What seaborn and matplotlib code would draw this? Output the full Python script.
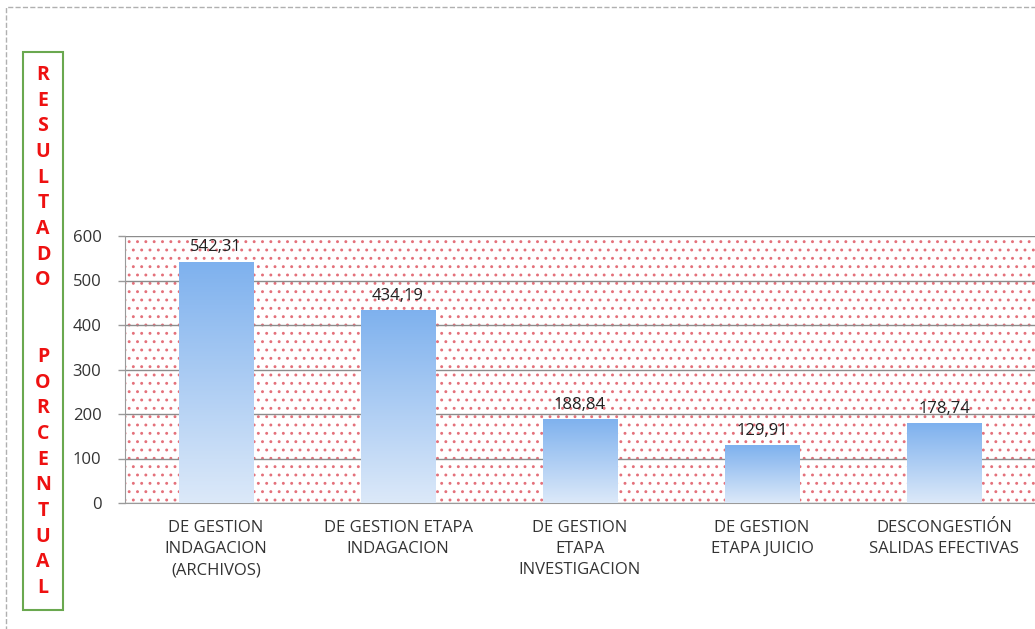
import numpy as np
import pandas as pd
import matplotlib
matplotlib.use("Agg")
import matplotlib.pyplot as plt
import seaborn as sns
from matplotlib.patches import Rectangle
from matplotlib.colors import LinearSegmentedColormap

# %% Data
categorias = [
    "DE GESTION\nINDAGACION\n(ARCHIVOS)",
    "DE GESTION ETAPA\nINDAGACION",
    "DE GESTION\nETAPA\nINVESTIGACION",
    "DE GESTION\nETAPA JUICIO",
    "DESCONGESTIÓN\nSALIDAS EFECTIVAS",
]
valores = [542.31, 434.19, 188.84, 129.91, 178.74]
y_ticks = [0, 100, 200, 300, 400, 500, 600]
etiqueta_y = "RESULTADO  PORCENTUAL"

df = pd.DataFrame({"categoria": categorias, "valor": valores})

# %% Figure
sns.set_style("white")
plt.rcParams['font.family'] = ['Open Sans', 'DejaVu Sans']
plt.rcParams['hatch.linewidth'] = 0.9

fig = plt.figure(figsize=(10.35, 6.29), dpi=100)
ax = fig.add_axes([125 / 1035, 1 - 503 / 629, (1035 - 125) / 1035, (503 - 236) / 629])

sns.barplot(data=df, x="categoria", y="valor", width=0.41, color="#9cc3f0", ax=ax, zorder=3)

# gradient fill on bars
cmap = LinearSegmentedColormap.from_list("azul", ["#dce9f9", "#7eb1ee"])
grad = np.linspace(0, 1, 256).reshape(-1, 1)
for bar in ax.patches:
    x0, y0 = bar.get_x(), bar.get_y()
    w, h = bar.get_width(), bar.get_height()
    bar.set_facecolor("none")
    bar.set_edgecolor("none")
    im = ax.imshow(grad, extent=[x0, x0 + w, y0, y0 + h], origin="lower",
                   cmap=cmap, aspect="auto", zorder=3)
    im.set_clip_path(bar)

ax.set_xlim(-0.5, len(categorias) - 0.5)
ax.set_ylim(0, 600)
ax.set_yticks(y_ticks)
ax.set_yticklabels([str(t) for t in y_ticks], fontsize=12, color="#333333")
ax.set_xticks(range(len(categorias)))
ax.set_xticklabels(categorias, fontsize=12, color="#333333", linespacing=1.45)
ax.tick_params(axis="x", length=0, pad=12)
ax.tick_params(axis="y", length=5, width=1, color="#9a9a9a", direction="out", pad=12, left=True)

# dotted background
ax.add_patch(Rectangle((0, 0), 1, 1, transform=ax.transAxes, facecolor="none",
                       edgecolor="#e4707a", hatch="..", linewidth=0, zorder=0))

ax.grid(axis="y", color="#8c8c8c", linewidth=1.0, zorder=1)
for s in ["top", "right"]:
    ax.spines[s].set_visible(False)
ax.spines["left"].set_color("#9a9a9a")
ax.spines["bottom"].set_color("#9a9a9a")
ax.set_xlabel("")
ax.set_ylabel("")

for i, v in enumerate(valores):
    ax.text(i, v + 14, f"{v:.2f}".replace(".", ","), ha="center", va="bottom",
            fontsize=12, color="#222222", zorder=4)

# vertical y label inside green box
fig.patches.append(Rectangle((23 / 1035, 1 - 610 / 629), 40 / 1035, 558 / 629,
                             transform=fig.transFigure, facecolor="none",
                             edgecolor="#6aa84f", linewidth=1.5))
letras = list(etiqueta_y)
y_top, y_bot = 1 - 75 / 629, 1 - 588 / 629
for k, ch in enumerate(letras):
    yy = y_top - k * (y_top - y_bot) / (len(letras) - 1)
    fig.text(43 / 1035, yy, ch, ha="center", va="center", fontsize=14,
             fontweight="bold", color="#ee1111")

# outer dashed frame
fig.patches.append(Rectangle((6 / 1035, -0.1), 1.2, 1.1 - 7 / 629,
                             transform=fig.transFigure, facecolor="none",
                             edgecolor="#b0b0b0", linewidth=1.0, linestyle="--"))

fig.savefig("out.png", dpi=100)
